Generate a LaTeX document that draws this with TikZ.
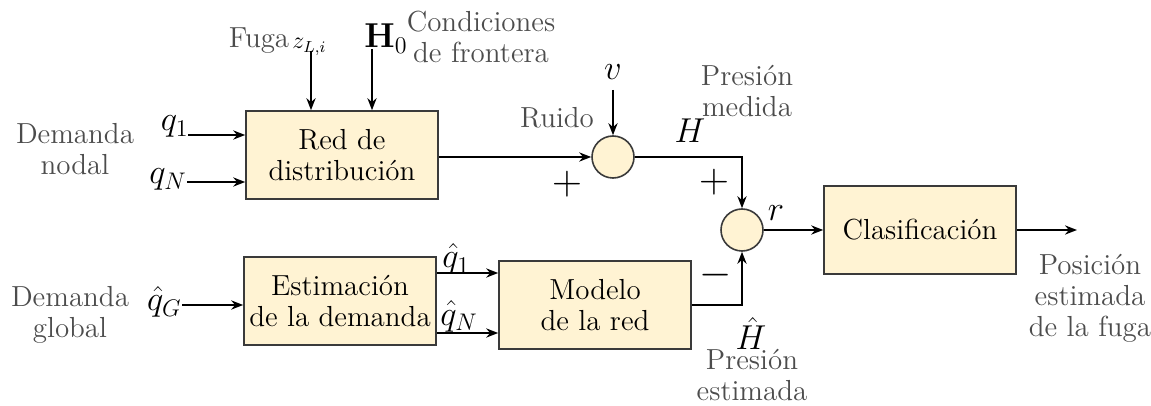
\documentclass[tikz,border=0pt]{standalone}
\definecolor{cream}{HTML}{FFF3D3}
\definecolor{boxline}{HTML}{3A3A3A}
\definecolor{labelgray}{HTML}{4C4C4C}
\usepackage{tikz}
\usetikzlibrary{arrows.meta,calc}
\usepackage{amsmath,amssymb}

\begin{document}
\begin{tikzpicture}[x=0.5pt,y=-0.5pt,
  every node/.style={font=\fontsize{14.5}{15.5}\selectfont},
  block/.style={draw=boxline,fill=cream,line width=0.8pt,minimum width=96pt,minimum height=44pt,align=center,inner sep=0pt},
  sumnode/.style={circle,draw=boxline,fill=cream,line width=0.8pt,minimum size=21pt,inner sep=0pt},
  graylabel/.style={labelgray,align=center,inner sep=0pt},
  mathlabel/.style={inner sep=0pt,font=\fontsize{16.5}{17}\selectfont},
  signlabel/.style={inner sep=0pt,font=\fontsize{20}{20}\selectfont},
  sig/.style={line width=0.9pt,-{Stealth[length=6pt,width=4.6pt]}}]
  \useasboundingbox (0,0) rectangle (1151,406);
  % blocks
  \node[block] (red) at (342,155) {Red de\\distribución};
  \node[block] (est) at (340,301) {Estimación\\de la demanda};
  \node[block] (mod) at (595,305) {Modelo\\de la red};
  \node[block] (cla) at (920,230) {Clasificación};
  % summing points
  \node[sumnode] (s1) at (613,157) {};
  \node[sumnode] (s2) at (742,230) {};
  % free ends of the inputs and the output
  \coordinate (q1in) at (188,135);
  \coordinate (qNin) at (187,182);
  \coordinate (qGin) at (182,305);
  \coordinate (zin) at (311,51);
  \coordinate (h0in) at (372,49);
  \coordinate (vin) at (613,90);
  \coordinate (qh1) at (436,273);
  \coordinate (qhN) at (436,333);
  \coordinate (out) at (1077,230);
  % signals
  \draw[sig] (q1in) -- (red.west |- q1in);
  \draw[sig] (qNin) -- (red.west |- qNin);
  \draw[sig] (zin) -- (zin |- red.north);
  \draw[sig] (h0in) -- (h0in |- red.north);
  \draw[sig] (red.east |- s1) -- (s1);
  \draw[sig] (vin) -- (s1);
  \draw[sig] (s1) -| (s2);
  \draw[sig] (qGin) -- (est.west |- qGin);
  \draw[sig] (est.east |- qh1) -- (mod.west |- qh1);
  \draw[sig] (est.east |- qhN) -- (mod.west |- qhN);
  \draw[sig] (mod) -| (s2);
  \draw[sig] (s2) -- (cla);
  \draw[sig] (cla) -- (out);
  % math labels
  \node[mathlabel,anchor=base east] (q1) at (189,131) {$q_1$};
  \node[mathlabel,anchor=base east] (qN) at (187,184) {$q_N$};
  \node[mathlabel,anchor=base east] (qG) at (182,311) {$\hat{q}_G$};
  \node[mathlabel,anchor=base west,font=\fontsize{12}{12}\selectfont] (z) at (292,49) {$z_{L,i}$};
  \node[mathlabel,anchor=base west] (h0) at (364,48) {$\mathbf{H}_0$};
  \node[mathlabel,anchor=base] (v) at (613,80) {$v$};
  \node[mathlabel,anchor=base] (hm) at (690,143) {$H$};
  \node[mathlabel,anchor=base] (r) at (776,221) {$r$};
  \node[mathlabel,anchor=base west] (qh1l) at (442,268) {$\hat{q}_1$};
  \node[mathlabel,anchor=base west] (qhNl) at (440,325) {$\hat{q}_N$};
  \node[mathlabel,anchor=base] (he) at (751,350) {$\hat{H}$};
  % signs
  \node[signlabel] (p1) at (567,184) {$+$};
  \node[signlabel] (p2) at (714,182) {$+$};
  \node[signlabel] (m1) at (716,275) {$-$};
  % gray labels
  \node[graylabel] (dn) at (75,149) {Demanda\\nodal};
  \node[graylabel] (dg) at (70,315) {Demanda\\global};
  \node[graylabel,anchor=base] (fuga) at (259,48) {Fuga};
  \node[graylabel] (cf) at (481,37) {Condiciones\\de frontera};
  \node[graylabel,anchor=base] (ruido) at (557,128) {Ruido};
  \node[graylabel] (pm) at (747,91) {Presión\\medida};
  \node[graylabel] (pe) at (752,375) {Presión\\estimada};
  \node[graylabel] (pos) at (1090,298) {Posición\\estimada\\de la fuga};
\end{tikzpicture}
\end{document}
